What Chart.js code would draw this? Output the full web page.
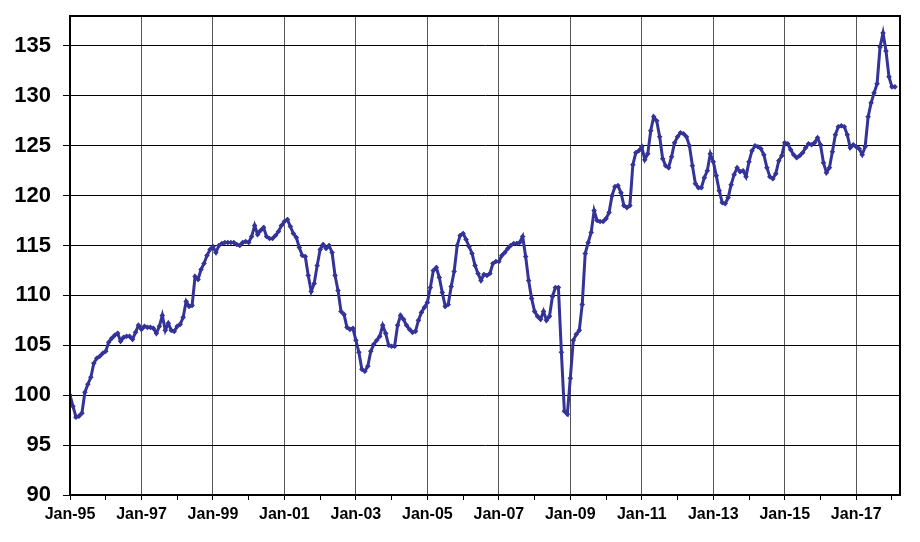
<!DOCTYPE html>
<html>
<head>
<meta charset="utf-8">
<script src="https://cdn.jsdelivr.net/npm/chart.js"></script>
<style>
  html, body { margin: 0; padding: 0; background: #fff; }
  #wrap { width: 920px; height: 542px; }
</style>
</head>
<body>
<div id="wrap"><canvas id="mycanvas" width="920" height="542"></canvas></div>
<script>
// monthly index values, Jan-95 .. Feb-18 (one row per year)
var indexValues = [
  100.0, 98.9, 97.8, 97.9, 98.2, 100.3, 101.1, 101.8, 103.2, 103.7, 103.9, 104.2,
  104.4, 105.3, 105.7, 106.0, 106.2, 105.4, 105.8, 105.9, 105.9, 105.6, 106.3, 107.0,
  106.6, 106.9, 106.8, 106.8, 106.7, 106.2, 106.9, 108.0, 106.5, 107.2, 106.5, 106.4,
  106.9, 107.1, 107.8, 109.4, 108.9, 109.0, 111.9, 111.6, 112.6, 113.2, 114.0, 114.6,
  114.9, 114.3, 115.0, 115.2, 115.3, 115.3, 115.3, 115.3, 115.1, 115.0, 115.3, 115.4,
  115.3, 115.9, 117.0, 116.1, 116.5, 116.8, 115.9, 115.7, 115.7, 116.0, 116.4, 117.0,
  117.4, 117.6, 116.9, 116.2, 115.8, 114.8, 114.0, 113.9, 112.0, 110.4, 111.2, 113.0,
  114.6, 115.1, 114.7, 115.0, 114.3, 112.0, 110.5, 108.4, 108.1, 106.8, 106.6, 106.7,
  105.5, 104.3, 102.6, 102.4, 102.9, 104.4, 105.1, 105.5, 105.9, 107.0, 106.2, 105.0,
  104.9, 104.9, 107.0, 108.0, 107.6, 107.0, 106.6, 106.3, 106.4, 107.5, 108.3, 108.8,
  109.3, 110.8, 112.5, 112.8, 111.8, 110.3, 108.9, 109.1, 110.9, 112.4, 115.0, 116.0,
  116.2, 115.6, 114.9, 114.2, 113.0, 112.2, 111.5, 112.1, 112.0, 112.2, 113.2, 113.4,
  113.4, 114.0, 114.3, 114.7, 115.0, 115.2, 115.2, 115.3, 115.9, 113.9, 111.5, 109.7,
  108.4, 107.9, 107.6, 108.4, 107.5, 107.9, 109.9, 110.8, 110.8, 104.3, 98.4, 98.1,
  101.7, 105.5, 106.1, 106.5, 109.1, 114.2, 115.3, 116.3, 118.5, 117.5, 117.4, 117.4,
  117.7, 118.3, 120.0, 120.9, 121.0, 120.3, 119.0, 118.8, 119.0, 123.1, 124.3, 124.5,
  124.9, 123.6, 124.2, 126.5, 127.9, 127.5, 125.9, 123.7, 123.0, 122.8, 123.9, 125.3,
  125.9, 126.3, 126.2, 125.9, 125.0, 123.0, 121.2, 120.8, 120.8, 121.8, 122.5, 124.2,
  123.4, 122.0, 120.5, 119.3, 119.2, 119.8, 121.1, 122.1, 122.8, 122.4, 122.5, 121.9,
  123.4, 124.5, 125.0, 124.9, 124.7, 124.1, 122.8, 121.9, 121.7, 122.2, 123.5, 124.0,
  125.3, 125.2, 124.6, 124.1, 123.8, 124.0, 124.3, 124.8, 125.2, 125.1, 125.3, 125.8,
  125.1, 123.3, 122.3, 122.8, 124.4, 126.1, 126.9, 127.0, 126.9, 126.1, 124.8, 125.1,
  124.9, 124.7, 124.1, 124.9, 127.9, 129.3, 130.3, 131.2, 134.9, 136.3, 134.5, 131.9,
  130.9, 130.9
];
var tickLabels = ['Jan-95','Jan-97','Jan-99','Jan-01','Jan-03','Jan-05','Jan-07','Jan-09','Jan-11','Jan-13','Jan-15','Jan-17'];
var yearTicks = [0,12,24,36,48,60,72,84,96,108,120,132,144,156,168,180,192,204,216,228,240,252,264,276];

var points = [];
for (var i in indexValues) {
  points.push({x: Number(i), y: indexValues[i]});
}

// box round the plot area
var frame = {
  id: 'frame',
  afterDraw: function(chart) {
    var a = chart.chartArea, c = chart.ctx;
    c.save();
    c.strokeStyle = '#000';
    c.lineWidth = 2;
    c.strokeRect(a.left, a.top, a.right - a.left, a.bottom - a.top);
    c.restore();
  }
};

var ctx = document.getElementById('mycanvas');
var lineGraph = new Chart(ctx, {
  type: 'line',
  data: {
    datasets: [{
      data: points,
      borderColor: '#333399',
      backgroundColor: '#333399',
      borderWidth: 3,
      pointStyle: 'rectRot',
      pointRadius: 2.8,
      pointBorderWidth: 0,
      tension: 0
    }]
  },
  options: {
    responsive: false,
    animation: false,
    layout: { padding: { top: 16, right: 20, left: 0, bottom: 0 } },
    plugins: { legend: { display: false }, tooltip: { enabled: false } },
    scales: {
      x: {
        type: 'linear',
        min: 0,
        max: 278.7,
        afterBuildTicks: function(scale) {
          scale.ticks = yearTicks.map(function(v) { return {value: v}; });
        },
        afterFit: function(scale) {
          scale.height = 47;
          scale.paddingLeft = 0;
          scale.paddingRight = 0;
        },
        ticks: {
          autoSkip: false,
          maxRotation: 0,
          padding: 5,
          color: '#000',
          font: { family: 'Liberation Sans, Arial, sans-serif', size: 16, weight: 'bold' },
          callback: function(v) {
            return v % 24 === 0 ? tickLabels[v / 24] : '';
          }
        },
        grid: {
          color: function(c) { return c.tick && c.tick.value % 24 === 0 ? '#555' : 'rgba(0,0,0,0)'; },
          tickColor: '#000',
          tickLength: 5,
          lineWidth: 1
        },
        border: { color: '#000', width: 2 }
      },
      y: {
        min: 90,
        max: 138,
        afterFit: function(scale) {
          scale.width = 70;
          scale.paddingTop = 0;
          scale.paddingBottom = 0;
        },
        ticks: {
          stepSize: 5,
          includeBounds: false,
          padding: 12,
          color: '#000',
          font: { family: 'Liberation Sans, Arial, sans-serif', size: 22, weight: 'bold' }
        },
        grid: { color: '#000', tickColor: '#000', tickLength: 7, lineWidth: 1 },
        border: { color: '#000', width: 2 }
      }
    }
  },
  plugins: [frame]
});
</script>
</body>
</html>
